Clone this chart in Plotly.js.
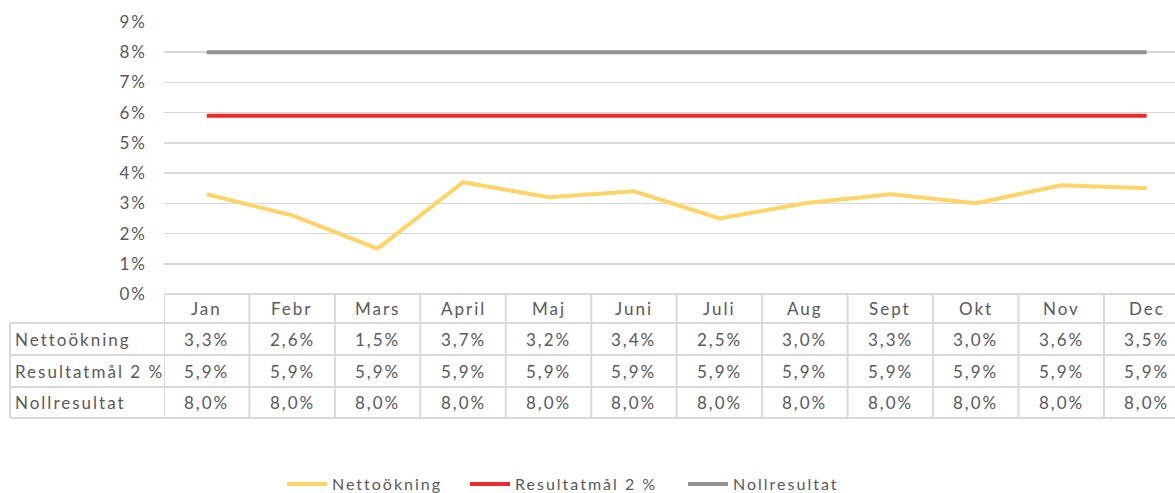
<!DOCTYPE html>
<html>
<head>
<meta charset="utf-8">
<script src="https://cdn.plot.ly/plotly-3.0.1.min.js"></script>
<style>
  html, body { margin: 0; padding: 0; background: #fff; }
  #chart { width: 1175px; height: 493px; }
  svg text { letter-spacing: 2px; }
</style>
</head>
<body>
<div id="chart"></div>
<script>
// ---- Data ----
const months = ["Jan", "Febr", "Mars", "April", "Maj", "Juni", "Juli", "Aug", "Sept", "Okt", "Nov", "Dec"];
const seriesNames = ["Nettoökning", "Resultatmål 2 %", "Nollresultat"];
const nettookning = [3.3, 2.6, 1.5, 3.7, 3.2, 3.4, 2.5, 3.0, 3.3, 3.0, 3.6, 3.5];
const resultatmal = [5.9, 5.9, 5.9, 5.9, 5.9, 5.9, 5.9, 5.9, 5.9, 5.9, 5.9, 5.9];
const nollresultat = [8.0, 8.0, 8.0, 8.0, 8.0, 8.0, 8.0, 8.0, 8.0, 8.0, 8.0, 8.0];
const seriesColors = ["#FDD466", "#EE2B2B", "#929292"];

// ---- Layout geometry (pixels) ----
const W = 1175, H = 493;
const mL = 164, mR = 0, mT = 22, mB = 199;
const plotW = W - mL - mR, plotH = H - mT - mB;
const FONT = "Lato, 'Open Sans', sans-serif";
const TXT = "#595959";
const GRID = "#d9d9d9";
const colW = 85.45; // pixel width of a category column
const xMax = -0.5 + plotW / colW;

const py = p => (H - mB - p) / plotH;   // pixel y -> paper y
const px = p => (p - mL) / plotW;       // pixel x -> paper x

const fmt = v => v.toFixed(1).replace('.', ',') + '%';

const idx = months.map((_, i) => i);
const allSeries = [nettookning, resultatmal, nollresultat];
const legendIds = ['legend', 'legend2', 'legend3'];
const legendStarts = [282, 465, 683]; // pixel x of each legend box

const traces = allSeries.map((vals, k) => ({
  type: 'scatter', mode: 'lines',
  x: idx, y: vals, name: seriesNames[k],
  line: { color: seriesColors[k], width: 4 },
  legend: legendIds[k],
  hoverinfo: 'skip'
}));

// ---- Data table under the axis ----
const rowTops = [294, 323, 355, 387, 418];
const annotations = [];
const shapes = [];

months.forEach((m, i) => {
  annotations.push({
    xref: 'x', yref: 'paper', x: i, y: py((rowTops[0] + rowTops[1]) / 2),
    text: m, showarrow: false, xanchor: 'center', yanchor: 'middle',
    font: { family: FONT, size: 17, color: TXT }
  });
});
allSeries.forEach((vals, r) => {
  const yc = py((rowTops[r + 1] + rowTops[r + 2]) / 2);
  annotations.push({
    xref: 'paper', yref: 'paper', x: px(13), y: yc,
    text: seriesNames[r], showarrow: false, xanchor: 'left', yanchor: 'middle',
    font: { family: FONT, size: 17, color: TXT }
  });
  vals.forEach((v, i) => {
    annotations.push({
      xref: 'x', yref: 'paper', x: i, y: yc,
      text: fmt(v), showarrow: false, xanchor: 'center', yanchor: 'middle',
      font: { family: FONT, size: 17, color: TXT }
    });
  });
});

const lineStyle = { color: GRID, width: 2 };
rowTops.forEach((t, j) => {
  shapes.push({
    type: 'line', xref: 'paper', yref: 'paper',
    x0: j === 0 ? 0 : px(10), x1: 1, y0: py(t), y1: py(t),
    line: lineStyle, layer: 'below'
  });
});
shapes.push({ type: 'line', xref: 'paper', yref: 'paper', x0: px(10), x1: px(10),
  y0: py(rowTops[1]), y1: py(rowTops[4]), line: lineStyle });
for (let i = 0; i <= months.length; i++) {
  shapes.push({ type: 'line', xref: 'x', yref: 'paper', x0: i - 0.5, x1: i - 0.5,
    y0: py(rowTops[0]), y1: py(rowTops[4]), line: lineStyle });
}

const legendBase = {
  orientation: 'h', xanchor: 'left', y: py(484), yanchor: 'middle',
  font: { family: FONT, size: 16, color: TXT },
  itemwidth: 40, borderwidth: 0, bgcolor: 'rgba(0,0,0,0)'
};

const layout = {
  width: W, height: H,
  margin: { l: mL, r: mR, t: mT, b: mB, pad: 0, autoexpand: false },
  paper_bgcolor: '#fff', plot_bgcolor: '#fff',
  font: { family: FONT, size: 17, color: TXT },
  showlegend: true,
  legend: Object.assign({}, legendBase, { x: px(legendStarts[0]) }),
  legend2: Object.assign({}, legendBase, { x: px(legendStarts[1]) }),
  legend3: Object.assign({}, legendBase, { x: px(legendStarts[2]) }),
  xaxis: {
    range: [-0.5, xMax], showticklabels: false, showgrid: false,
    zeroline: false, showline: false, ticks: '', fixedrange: true
  },
  yaxis: {
    range: [0, 9], dtick: 1, tick0: 0, ticksuffix: '%',
    showgrid: true, gridcolor: GRID, gridwidth: 1.5,
    zeroline: false, showline: false, ticks: '',
    ticklabelstandoff: 16,
    tickfont: { family: FONT, size: 17, color: TXT }, fixedrange: true
  },
  annotations: annotations,
  shapes: shapes
};

Plotly.newPlot('chart', traces, layout, { staticPlot: true, displayModeBar: false });
</script>
</body>
</html>
